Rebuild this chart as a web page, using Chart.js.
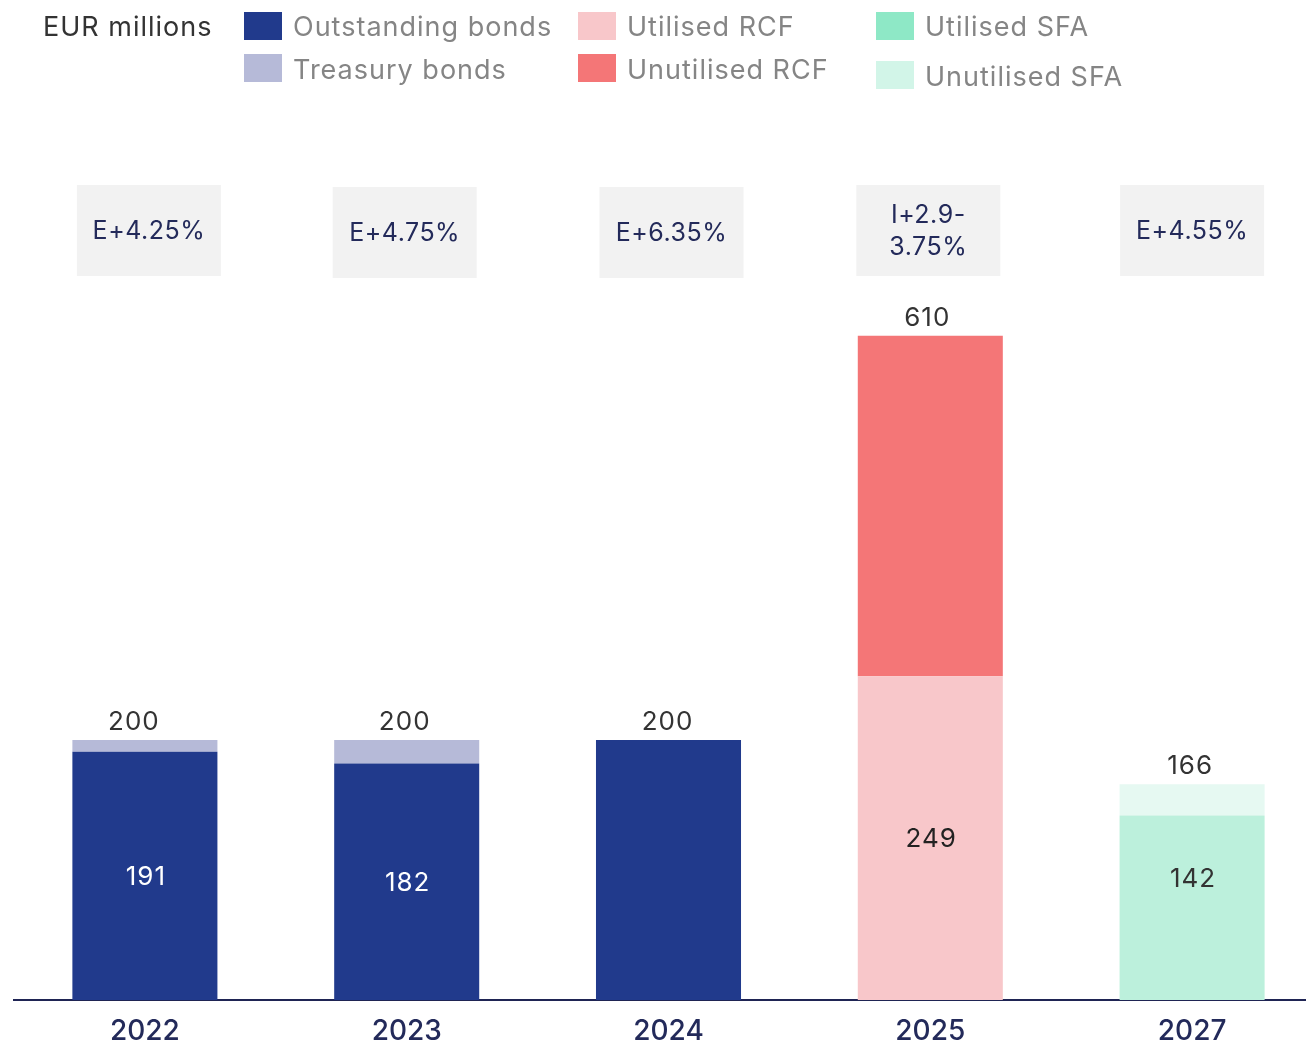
<!DOCTYPE html>
<html>
<head>
<meta charset="utf-8">
<script src="https://cdn.jsdelivr.net/npm/chart.js@4"></script>
<style>
  html, body { margin: 0; padding: 0; width: 1306px; height: 1044px; overflow: hidden; background: #fff; }
  body { position: relative; font-family: Inter, "Noto Sans", sans-serif; }
  #wrap { position: absolute; left: 0; top: 0; width: 1323px; height: 1044px; }
  .lg { position: absolute; font-size: 27px; letter-spacing: 1px; color: #858585; white-space: nowrap; line-height: 32px; }
  .sq { position: absolute; width: 38px; height: 28px; }
</style>
</head>
<body>
<div id="wrap"><canvas id="debt" width="1323" height="1044"></canvas></div>
<div id="legend"></div>
<script>
// maturity years
const years = ["2022", "2023", "2024", "2025", "2027"];

// EUR millions, as drawn (unutilised RCF segment is drawn shortened in the source)
const outstandingBonds = [191, 182, 200, 0, 0];
const treasuryBonds = [9, 18, 0, 0, 0];
const utilisedRCF = [0, 0, 0, 249, 0];
const unutilisedRCF = [0, 0, 0, 262, 0];
const utilisedSFA = [0, 0, 0, 0, 142];
const unutilisedSFA = [0, 0, 0, 0, 24];

// labels
const totals = [200, 200, 200, 610, 166];
const insideLabels = ["191", "182", "", "249", "142"];
const rates = [["E+4.25%"], ["E+4.75%"], ["E+6.35%"], ["I+2.9-", "3.75%"], ["E+4.55%"]];

const navy = "#213A8C";
const textNavy = "#232A5A";
const FONT = 'Inter, "Noto Sans", sans-serif';

const series = [
  { label: "Outstanding bonds", data: outstandingBonds, color: navy, legendColor: navy, text: "#fff" },
  { label: "Treasury bonds", data: treasuryBonds, color: "#B6BAD8", legendColor: "#B6BAD8", text: "#333" },
  { label: "Utilised RCF", data: utilisedRCF, color: "#F8C7CA", legendColor: "#F8C7CA", text: "#222" },
  { label: "Unutilised RCF", data: unutilisedRCF, color: "#F47677", legendColor: "#F47677", text: "#222" },
  { label: "Utilised SFA", data: utilisedSFA, color: "#BCF0DC", legendColor: "#8EE8C6", text: "#333" },
  { label: "Unutilised SFA", data: unutilisedSFA, color: "#E6F9F2", legendColor: "#D2F5E8", text: "#333" }
];

// html legend laid out like the source: unit, then three columns of two
const legendPos = [
  [244, 12, 293, 27], [244, 54, 293, 70],
  [578, 12, 627, 27], [578, 54, 627, 70],
  [876, 12, 925, 27], [876, 61, 925, 77]
];
let lh = '<div class="lg" style="left:43px;top:11px;color:#333;">EUR millions</div>';
series.forEach((s, i) => {
  const p = legendPos[i];
  lh += '<div class="sq" style="left:' + p[0] + 'px;top:' + p[1] + 'px;background:' + s.legendColor + '"></div>';
  lh += '<div class="lg" style="left:' + p[2] + 'px;top:' + (p[3] - 16) + 'px;">' + s.label + '</div>';
});
document.getElementById('legend').innerHTML = lh;

// small nudges to match where the source put its labels
const totalDx = [-11, -2, -1, -3, -2];
const insideDy = [0, 0, 0, 0, -30];
const boxDx = [4, -2, 3, -2, 0];

const labelPlugin = {
  id: 'labels',
  afterDatasetsDraw(chart) {
    const ctx = chart.ctx;
    const y = chart.scales.y;
    const meta0 = chart.getDatasetMeta(0);
    ctx.save();
    ctx.textAlign = 'center';
    ctx.textBaseline = 'middle';
    years.forEach((yr, i) => {
      const x = meta0.data[i].x;
      let top = 0;
      series.forEach(s => { top += s.data[i]; });
      ctx.letterSpacing = '1px';
      // total above stack
      ctx.font = '26px ' + FONT;
      ctx.fillStyle = '#333';
      ctx.fillText(String(totals[i]), x + totalDx[i], y.getPixelForValue(top) - 18);
      // label inside bottom segment
      if (insideLabels[i]) {
        const s = series.find(d => d.data[i] > 0);
        const mid = (y.getPixelForValue(0) + y.getPixelForValue(s.data[i])) / 2;
        ctx.fillStyle = s.text;
        ctx.fillText(insideLabels[i], x + 1, mid + 1 + insideDy[i]);
      }
      // rate box
      const bw = 144, bh = 91, by = (i === 1 || i === 2) ? 187 : 185;
      const bx = x - bw / 2 + boxDx[i];
      ctx.fillStyle = '#F2F2F2';
      ctx.fillRect(bx, by, bw, bh);
      ctx.fillStyle = textNavy;
      ctx.font = '25px ' + FONT;
      ctx.letterSpacing = '0.5px';
      const lines = rates[i];
      lines.forEach((t, k) => {
        const ty = by + bh / 2 + 1 + (k - (lines.length - 1) / 2) * 32;
        ctx.fillText(t, bx + bw / 2, ty);
      });
    });
    ctx.restore();
  }
};

new Chart(document.getElementById('debt'), {
  type: 'bar',
  data: {
    labels: years,
    datasets: series.map(s => ({
      label: s.label,
      data: s.data,
      backgroundColor: s.color,
      borderWidth: 0,
      categoryPercentage: 1,
      barPercentage: 0.554
    }))
  },
  options: {
    responsive: false,
    animation: false,
    devicePixelRatio: 1,
    layout: { padding: { left: 14, right: 0, top: 220, bottom: 0 } },
    plugins: { legend: { display: false }, tooltip: { enabled: false } },
    scales: {
      x: {
        stacked: true,
        grid: { display: false, drawTicks: false },
        border: { display: true, color: '#1F2454', width: 2 },
        ticks: {
          color: textNavy,
          font: { size: 28, family: FONT, weight: '500' },
          padding: 15,
          maxRotation: 0,
          minRotation: 0,
          autoSkip: false
        },
        afterFit(scale) { scale.height = 44; }
      },
      y: {
        stacked: true,
        display: false,
        min: 0,
        max: 600
      }
    }
  },
  plugins: [labelPlugin]
});
</script>
</body>
</html>
